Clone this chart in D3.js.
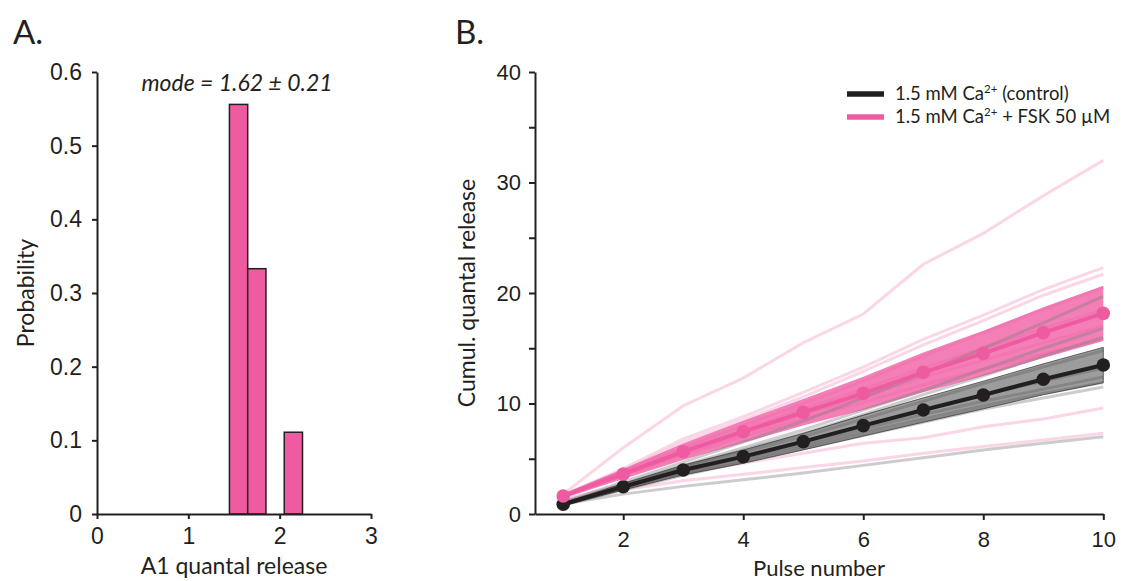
<!DOCTYPE html>
<html>
<head>
<meta charset="utf-8">
<script src="https://cdn.jsdelivr.net/npm/d3@7"></script>
<style>
  body { margin: 0; background: #fff; }
  svg { display: block; font-family: Lato, "Open Sans", sans-serif; }
  .axis path, .axis line { stroke: #231f20; stroke-width: 2; }
  .axis text { fill: #231f20; }
</style>
</head>
<body>
<svg id="fig" width="1123" height="581"></svg>
<script>
// ---- Panel A data: histogram of A1 quantal release
var binStarts = [1.45, 1.65, 2.05];
var binWidth = 0.2;
var binProb = [0.556, 0.333, 0.111];
var histXTicks = [0, 1, 2, 3];
var histYTicks = [0, 0.1, 0.2, 0.3, 0.4, 0.5, 0.6];

// ---- Panel B data: cumulative quantal release per pulse
var pulses = [1, 2, 3, 4, 5, 6, 7, 8, 9, 10];
var ctrlMean = [0.88, 2.47, 3.98, 5.19, 6.55, 8.0, 9.41, 10.77, 12.19, 13.48];
var ctrlSem = [0.12, 0.3, 0.45, 0.6, 0.75, 0.95, 1.1, 1.25, 1.4, 1.6];
var fskMean = [1.63, 3.62, 5.64, 7.45, 9.2, 10.92, 12.82, 14.54, 16.41, 18.16];
var fskSem = [0.2, 0.45, 0.75, 1.0, 1.2, 1.5, 1.8, 2.05, 2.3, 2.5];

var ctrlCells = [
  [1.1, 2.9, 4.7, 6.5, 8.4, 10.5, 12.7, 15.0, 17.3, 19.7],
  [1.0, 2.7, 4.4, 6.0, 7.6, 9.4, 11.2, 13.1, 15.0, 16.8],
  [1.0, 2.6, 4.3, 5.8, 7.3, 9.0, 10.8, 12.5, 14.3, 16.0],
  [0.9, 2.6, 4.2, 5.6, 7.0, 8.6, 10.2, 11.8, 13.3, 14.8],
  [0.9, 2.5, 4.0, 5.3, 6.6, 8.0, 9.4, 10.8, 12.0, 13.2],
  [0.8, 2.4, 3.8, 5.1, 6.3, 7.7, 9.0, 10.2, 11.3, 12.4],
  [0.8, 2.3, 3.7, 4.9, 6.1, 7.4, 8.6, 9.8, 10.9, 11.9],
  [0.8, 2.2, 3.5, 4.7, 5.9, 7.1, 8.3, 9.5, 10.5, 11.5],
  [0.9, 1.8, 2.5, 3.1, 3.7, 4.4, 5.1, 5.8, 6.4, 7.0]
];
var fskCells = [
  [1.8, 6.0, 9.8, 12.3, 15.5, 18.1, 22.6, 25.4, 28.8, 32.0],
  [1.7, 4.1, 6.8, 8.8, 11.0, 13.3, 15.8, 18.0, 20.3, 22.3],
  [1.6, 3.9, 6.5, 8.5, 10.6, 12.9, 15.3, 17.5, 19.8, 21.7],
  [1.7, 3.8, 6.0, 8.0, 10.0, 12.0, 14.3, 16.4, 18.5, 20.5],
  [1.6, 3.7, 5.7, 7.6, 9.5, 11.3, 13.2, 15.0, 16.8, 18.5],
  [1.6, 3.6, 5.5, 7.3, 9.0, 10.6, 12.4, 13.9, 15.5, 17.0],
  [1.5, 3.5, 5.3, 7.0, 8.6, 10.1, 11.7, 13.1, 14.5, 15.8],
  [1.3, 2.7, 3.7, 4.6, 5.5, 6.4, 6.9, 7.9, 8.6, 9.6],
  [1.2, 2.2, 3.0, 3.6, 4.2, 4.8, 5.5, 6.1, 6.7, 7.3]
];
var cumXTicks = [2, 4, 6, 8, 10];
var cumYTicks = [0, 5, 10, 15, 20, 25, 30, 35, 40];

var pink = "#ef5ba1";
var dark = "#231f20";

var svg = d3.select("#fig");

// ================= Panel A =================
var xA = d3.scaleLinear().domain([0, 3]).range([97, 371]);
var yA = d3.scaleLinear().domain([0, 0.6]).range([514, 72]);

svg.append("g").selectAll("rect")
    .data(binStarts)
    .enter().append("rect")
    .attr("x", function (d) { return xA(d); })
    .attr("width", function (d) { return xA(d + binWidth) - xA(d); })
    .attr("y", function (d, i) { return yA(binProb[i]); })
    .attr("height", function (d, i) { return yA(0) - yA(binProb[i]); })
    .style("fill", pink)
    .style("stroke", dark)
    .style("stroke-width", 1.5);

svg.append("g")
    .attr("class", "axis")
    .attr("transform", "translate(0," + yA(0) + ")")
    .call(d3.axisBottom(xA).tickValues(histXTicks).tickFormat(d3.format("d"))
        .tickSize(5).tickSizeOuter(0).tickPadding(9))
    .selectAll("text").style("font-size", "23px");

svg.append("g")
    .attr("class", "axis")
    .attr("transform", "translate(" + xA(0) + ",0)")
    .call(d3.axisLeft(yA).tickValues(histYTicks)
        .tickFormat(function (d) { return d === 0 ? "0" : d3.format(".1f")(d); })
        .tickSize(5).tickSizeOuter(0).tickPadding(10))
    .selectAll("text").style("font-size", "23px");

svg.append("text")
    .attr("x", 237).attr("y", 91)
    .attr("text-anchor", "middle")
    .style("font-size", "23px").style("font-style", "italic").style("fill", dark)
    .text("mode = 1.62 \u00b1 0.21");

svg.append("text")
    .attr("transform", "translate(34,293) rotate(-90)")
    .attr("text-anchor", "middle")
    .style("font-size", "23px").style("fill", dark)
    .text("Probability");

svg.append("text")
    .attr("x", 234).attr("y", 574)
    .attr("text-anchor", "middle")
    .style("font-size", "23px").style("fill", dark)
    .text("A1 quantal release");

svg.append("text")
    .attr("x", 13).attr("y", 44)
    .style("font-size", "33px").style("fill", dark)
    .text("A.");

// ================= Panel B =================
var xB = d3.scaleLinear().domain([0.53, 10]).range([535, 1103.3]);
var yB = d3.scaleLinear().domain([0, 40]).range([514, 72]);

var line = d3.line()
    .x(function (d, i) { return xB(pulses[i]); })
    .y(function (d) { return yB(d); });

function band(mean, sem) {
    return d3.area()
        .x(function (d, i) { return xB(pulses[i]); })
        .y0(function (d, i) { return yB(mean[i] - sem[i]); })
        .y1(function (d, i) { return yB(mean[i] + sem[i]); })(mean);
}

var plot = svg.append("g");

// single-cell traces, FSK
plot.selectAll(".fskCell")
    .data(fskCells)
    .enter().append("path")
    .attr("class", "fskCell")
    .attr("d", line)
    .style("fill", "none")
    .style("stroke", pink)
    .style("stroke-opacity", 0.25)
    .style("stroke-width", 3);

// FSK sem band
plot.append("path")
    .attr("d", band(fskMean, fskSem))
    .style("fill", pink)
    .style("fill-opacity", 0.78)
    .style("stroke", "none");

// single-cell traces, control
plot.selectAll(".ctrlCell")
    .data(ctrlCells)
    .enter().append("path")
    .attr("class", "ctrlCell")
    .attr("d", line)
    .style("fill", "none")
    .style("stroke", "#808080")
    .style("stroke-opacity", 0.4)
    .style("stroke-width", 3);

// control sem band
plot.append("path")
    .attr("d", band(ctrlMean, ctrlSem))
    .style("fill", "#4a4a4a")
    .style("fill-opacity", 0.55)
    .style("stroke", "#333")
    .style("stroke-opacity", 0.7)
    .style("stroke-width", 1);

// means
function drawMean(vals, col) {
    plot.append("path")
        .attr("d", line(vals))
        .style("fill", "none")
        .style("stroke", col)
        .style("stroke-width", 4);
    plot.append("g").selectAll("circle")
        .data(vals)
        .enter().append("circle")
        .attr("cx", function (d, i) { return xB(pulses[i]); })
        .attr("cy", function (d) { return yB(d); })
        .attr("r", 6.8)
        .style("fill", col);
}
drawMean(ctrlMean, dark);
drawMean(fskMean, pink);

svg.append("g")
    .attr("class", "axis")
    .attr("transform", "translate(0," + yB(0) + ")")
    .call(d3.axisBottom(xB).tickValues(cumXTicks).tickFormat(d3.format("d"))
        .tickSize(6).tickSizeOuter(0).tickPadding(11))
    .selectAll("text").style("font-size", "22px");

svg.append("g")
    .attr("class", "axis")
    .attr("transform", "translate(" + xB.range()[0] + ",0)")
    .call(d3.axisLeft(yB).tickValues(cumYTicks)
        .tickFormat(function (d) { return d % 10 === 0 ? d : ""; })
        .tickSize(6).tickSizeOuter(0).tickPadding(8))
    .selectAll("text").style("font-size", "22px");

svg.append("text")
    .attr("transform", "translate(475,293) rotate(-90)")
    .attr("text-anchor", "middle")
    .style("font-size", "23px").style("fill", dark)
    .text("Cumul. quantal release");

svg.append("text")
    .attr("x", 819).attr("y", 576)
    .attr("text-anchor", "middle")
    .style("font-size", "22px").style("fill", dark)
    .text("Pulse number");

svg.append("text")
    .attr("x", 455).attr("y", 44)
    .style("font-size", "33px").style("fill", dark)
    .text("B.");

// legend
var legendRows = [
    { col: dark, pre: "1.5 mM Ca", post: " (control)" },
    { col: pink, pre: "1.5 mM Ca", post: " + FSK 50 \u00b5M" }
];
var legend = svg.append("g").selectAll("g")
    .data(legendRows)
    .enter().append("g")
    .attr("transform", function (d, i) { return "translate(847," + (94 + i * 23) + ")"; });
legend.append("line")
    .attr("x1", 0).attr("x2", 37)
    .style("stroke", function (d) { return d.col; })
    .style("stroke-width", 5.5);
var lt = legend.append("text")
    .attr("x", 48).attr("y", 6)
    .style("font-size", "18.5px").style("fill", dark);
lt.append("tspan").text(function (d) { return d.pre; });
lt.append("tspan").attr("dy", -7).style("font-size", "11.5px").text("2+");
lt.append("tspan").attr("dy", 7).text(function (d) { return d.post; });
</script>
</body>
</html>
